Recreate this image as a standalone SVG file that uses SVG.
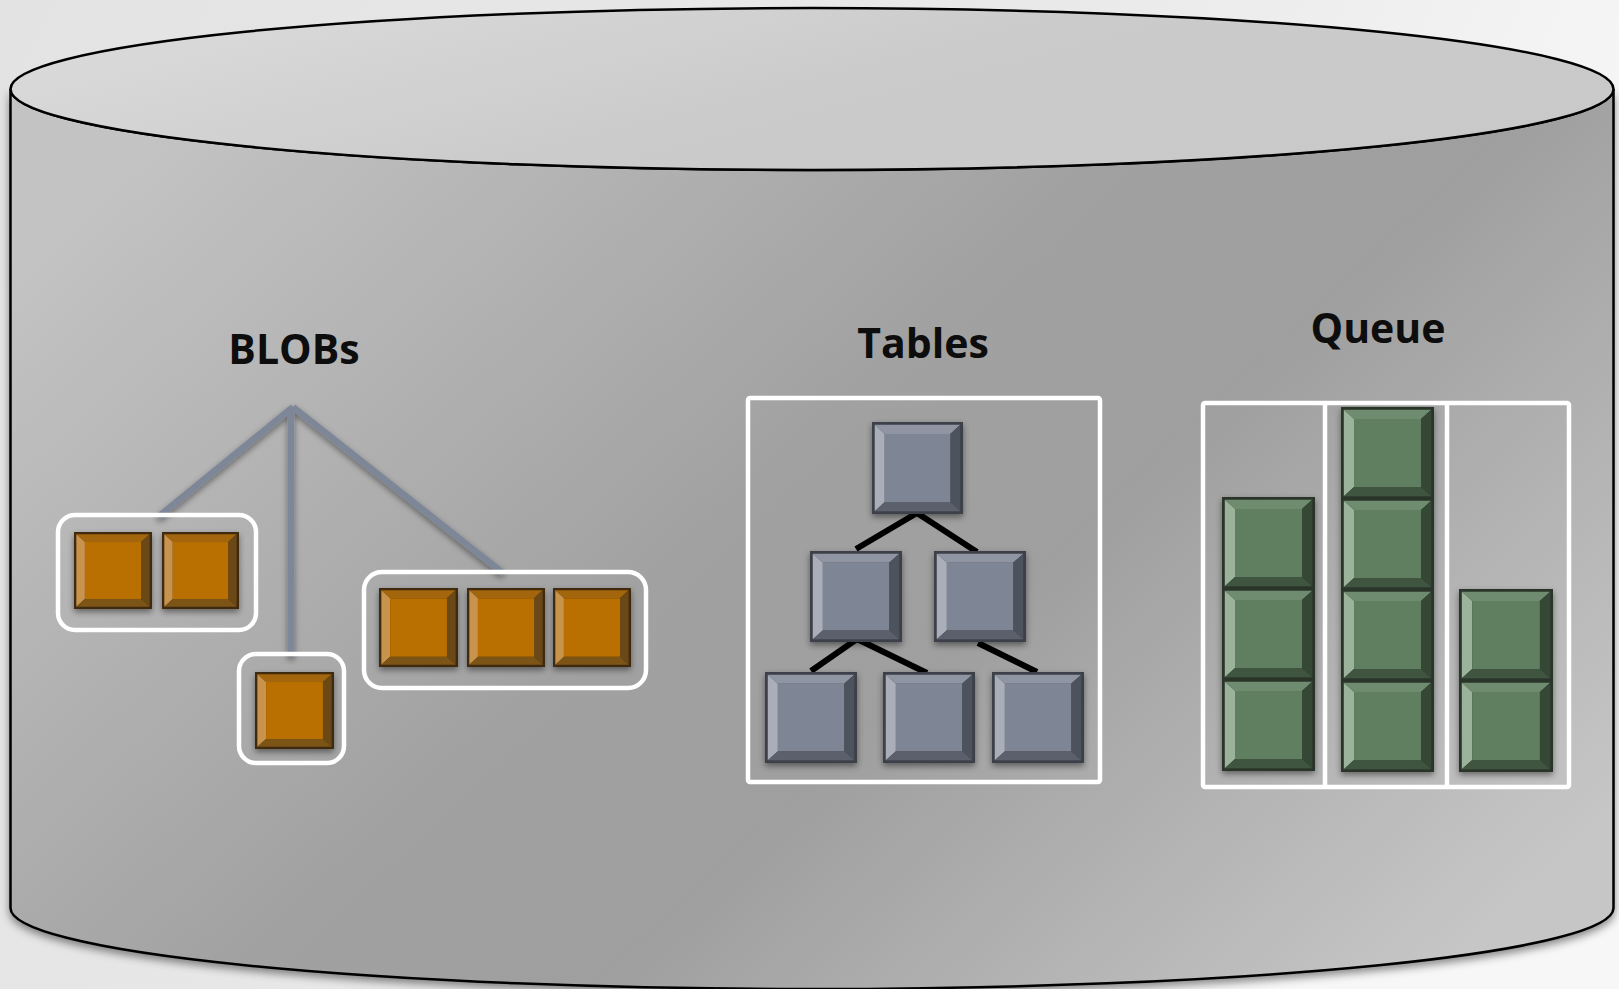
<svg xmlns="http://www.w3.org/2000/svg" xmlns:xlink="http://www.w3.org/1999/xlink" width="1619" height="989" viewBox="0 0 1619 989">
  <defs>
    <style>
      .label { font-family: "Open Sans", "Liberation Sans", sans-serif; font-weight: 700; font-size: 41px; fill: #0d0d0d; text-anchor: middle; }
      .frame { fill: none; stroke: #ffffff; stroke-width: 4.5; }
      .blobline { stroke: #7e8797; stroke-width: 6.5; fill: none; }
      .treeline { stroke: #000000; stroke-width: 6; fill: none; }
      .outline { stroke: #000000; stroke-width: 2.5; }
    </style>

    <linearGradient id="bg" x1="0" y1="0" x2="1" y2="0.3">
      <stop offset="0" stop-color="#e3e3e3"/>
      <stop offset="0.6" stop-color="#e9e9e9"/>
      <stop offset="1" stop-color="#f7f7f7"/>
    </linearGradient>
    <linearGradient id="bodyFill" x1="0" y1="0.2" x2="1" y2="0.8">
      <stop offset="0" stop-color="#c3c3c3"/>
      <stop offset="0.45" stop-color="#a1a1a1"/>
      <stop offset="0.62" stop-color="#9f9f9f"/>
      <stop offset="1" stop-color="#c6c6c6"/>
    </linearGradient>
    <linearGradient id="lidFill" x1="0" y1="0.3" x2="1" y2="0.7">
      <stop offset="0" stop-color="#dadada"/>
      <stop offset="0.5" stop-color="#cbcbcb"/>
      <stop offset="1" stop-color="#c9c9c9"/>
    </linearGradient>

    <filter id="shadow" x="-10%" y="-10%" width="130%" height="130%">
      <feDropShadow dx="0" dy="3" stdDeviation="3" flood-color="#000" flood-opacity="0.45"/>
    </filter>
    <filter id="cylShadow" x="-5%" y="-5%" width="110%" height="115%">
      <feDropShadow dx="0" dy="4" stdDeviation="4" flood-color="#000" flood-opacity="0.45"/>
    </filter>

    <!-- bevelled tiles -->
    <symbol id="tileOrange" viewBox="0 0 100 100" preserveAspectRatio="none">
      <rect x="0" y="0" width="100" height="100" fill="#3f2a10"/>
      <polygon points="3,3 97,3 86,13 14,13" fill="#a4660f"/>
      <polygon points="3,3 14,13 14,87 3,97" fill="#c8944e"/>
      <polygon points="97,3 97,97 86,87 86,13" fill="#6a4818"/>
      <polygon points="3,97 97,97 86,87 14,87" fill="#7c5419"/>
      <rect x="14" y="13" width="72" height="74" fill="#b96f00"/>
    </symbol>
    <symbol id="tileSlate" viewBox="0 0 100 100" preserveAspectRatio="none">
      <rect x="0" y="0" width="100" height="100" fill="#3c4048"/>
      <polygon points="3,3 97,3 86,13 14,13" fill="#8f95a2"/>
      <polygon points="3,3 14,13 14,87 3,97" fill="#a9aeb9"/>
      <polygon points="97,3 97,97 86,87 86,13" fill="#4d525c"/>
      <polygon points="3,97 97,97 86,87 14,87" fill="#5c616c"/>
      <rect x="14" y="13" width="72" height="74" fill="#7e8595"/>
    </symbol>
    <symbol id="tileGreen" viewBox="0 0 100 100" preserveAspectRatio="none">
      <rect x="0" y="0" width="100" height="100" fill="#2c362c"/>
      <polygon points="3,3 97,3 86,13 14,13" fill="#6f8c6f"/>
      <polygon points="3,3 14,13 14,87 3,97" fill="#9bb39b"/>
      <polygon points="97,3 97,97 86,87 86,13" fill="#364636"/>
      <polygon points="3,97 97,97 86,87 14,87" fill="#405440"/>
      <rect x="14" y="13" width="72" height="74" fill="#617f61"/>
    </symbol>
  </defs>

  <!-- backdrop -->
  <rect x="0" y="0" width="1619" height="989" fill="url(#bg)"/>

  <!-- storage cylinder -->
  <g id="cylinder">
    <path class="outline" filter="url(#cylShadow)" fill="url(#bodyFill)"
          d="M10.5,89 V908 A801.5,81 0 0 0 1613.5,908 V89 A801.5,81 0 0 1 10.5,89 Z"/>
    <ellipse class="outline" cx="812" cy="89" rx="801.5" ry="81" fill="url(#lidFill)"/>
  </g>

  <!-- labels -->
  <g id="label-blobs"><text class="label" x="294" y="364">BLOBs</text></g>
  <g id="label-tables"><text class="label" x="923" y="358">Tables</text></g>
  <g id="label-queue"><text class="label" x="1378" y="343">Queue</text></g>

  <!-- connectors -->
  <g id="connectors">
    <g id="blob-links" filter="url(#shadow)">
      <line class="blobline" x1="293" y1="407" x2="158" y2="517"/>
      <line class="blobline" x1="291" y1="408" x2="291" y2="657"/>
      <line class="blobline" x1="293" y1="407" x2="503" y2="573"/>
    </g>
    <g id="table-links">
      <polyline class="treeline" points="856,549 917,513 977,552"/>
      <polyline class="treeline" points="811,671 857,639 927,673"/>
      <line class="treeline" x1="978" y1="643" x2="1037" y2="672"/>
    </g>
  </g>

  <!-- BLOB containers -->
  <g id="blob-group-1">
    <rect class="frame" x="58" y="515" width="198" height="115" rx="17"/>
    <g filter="url(#shadow)">
      <use href="#tileOrange" x="74" y="532" width="78" height="77"/>
      <use href="#tileOrange" x="162" y="532" width="77" height="77"/>
    </g>
  </g>
  <g id="blob-group-2">
    <rect class="frame" x="239" y="654" width="105" height="109" rx="17"/>
    <g filter="url(#shadow)">
      <use href="#tileOrange" x="255" y="672" width="79" height="77"/>
    </g>
  </g>
  <g id="blob-group-3">
    <rect class="frame" x="364" y="572" width="282" height="116" rx="18"/>
    <g filter="url(#shadow)">
      <use href="#tileOrange" x="379" y="588" width="79" height="79"/>
      <use href="#tileOrange" x="467" y="588" width="78" height="79"/>
      <use href="#tileOrange" x="553" y="588" width="78" height="79"/>
    </g>
  </g>

  <!-- table tree -->
  <g id="tables">
    <rect class="frame" x="748" y="398" width="352" height="384" rx="2"/>
    <g filter="url(#shadow)">
      <use href="#tileSlate" x="872" y="422" width="91" height="92"/>
      <use href="#tileSlate" x="810" y="551" width="92" height="91"/>
      <use href="#tileSlate" x="934" y="551" width="92" height="91"/>
      <use href="#tileSlate" x="765" y="672" width="92" height="91"/>
      <use href="#tileSlate" x="883" y="672" width="92" height="91"/>
      <use href="#tileSlate" x="992" y="672" width="92" height="91"/>
    </g>
  </g>

  <!-- queue columns -->
  <g id="queue">
    <rect class="frame" x="1203" y="403" width="366" height="384" rx="2"/>
    <line class="frame" x1="1325" y1="403" x2="1325" y2="787"/>
    <line class="frame" x1="1447" y1="403" x2="1447" y2="787"/>
    <g filter="url(#shadow)">
      <use href="#tileGreen" x="1222" y="497" width="93" height="92"/>
      <use href="#tileGreen" x="1222" y="588" width="93" height="92"/>
      <use href="#tileGreen" x="1222" y="679" width="93" height="92"/>

      <use href="#tileGreen" x="1341" y="407" width="93" height="92"/>
      <use href="#tileGreen" x="1341" y="498" width="93" height="92"/>
      <use href="#tileGreen" x="1341" y="589" width="93" height="92"/>
      <use href="#tileGreen" x="1341" y="680" width="93" height="92"/>

      <use href="#tileGreen" x="1459" y="589" width="94" height="92"/>
      <use href="#tileGreen" x="1459" y="680" width="94" height="92"/>
    </g>
  </g>
</svg>
